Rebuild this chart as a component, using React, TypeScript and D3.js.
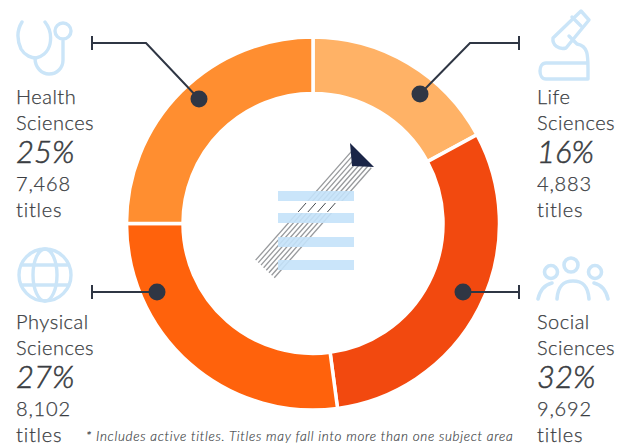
import React from "react";
import * as d3 from "d3";

const categories = ["Life Sciences", "Social Sciences", "Physical Sciences", "Health Sciences"];
const arcShares = [17.1, 30.8, 27.1, 25.0];
const percentLabels = ["16%", "32%", "27%", "25%"];
const titleCounts = ["4,883", "9,692", "8,102", "7,468"];
const sliceColors = ["#FFB266", "#F2490F", "#FF620C", "#FF8E30"];
const footnote = "* Includes active titles. Titles may fall into more than one subject area";

const CX = 313, CY = 223.5, R0 = 130, R1 = 186.5;
const NAVY = "#2F3644", ICON = "#CBE5F8", TEXT = "#3A3D42", BAR = "#C4E2FA";

const labelPos = [
  { x: 537, y: 104 }, { x: 537, y: 329 }, { x: 16, y: 329 }, { x: 16, y: 104 },
];
const leaders = [
  { pts: [[519, 43], [470, 43], [420, 94]] },
  { pts: [[519, 292], [463, 292]] },
  { pts: [[92, 292], [157, 292]] },
  { pts: [[92, 43], [146, 43], [199, 99]] },
];
const barYs = [191, 213, 237, 260];
const hatchOffsets = d3.range(-13, 14, 3.7);

function Stethoscope() {
  return (
    <g fill="none" stroke={ICON} strokeWidth={3.4} strokeLinecap="round" strokeLinejoin="round" filter="url(#soft)">
      <path d="M22 22 C17 30 17 40 21 49 C25 56 32 58 36 58 C41 57 48 53 50 44 C52 34 49 27 45 22" />
      <path d="M35 58 C35 68 42 74 49 74 C57 74 63 68 63 60 L63 41" />
      <circle cx={63} cy={31} r={8} />
    </g>
  );
}
function Microscope() {
  return (
    <g fill="none" stroke={ICON} strokeWidth={3.4} strokeLinecap="round" strokeLinejoin="round" filter="url(#soft)">
      <path d="M553 38 L581 11 L589 20 L566 48 C559 50 552 45 553 38 Z" />
      <path d="M569 36 L577 44 C588 46 588 55 588 69 L588 79 L546 79 C538 79 538 63 546 63 L587 63" />
      <path d="M572 17 L581 26" />
    </g>
  );
}
function Globe() {
  return (
    <g fill="none" stroke={ICON} strokeWidth={3.4} filter="url(#soft)">
      <circle cx={45} cy={275} r={26} />
      <ellipse cx={45} cy={275} rx={12} ry={26} />
      <path d="M21 265 H69 M21 285 H69" />
    </g>
  );
}
function People() {
  return (
    <g fill="none" stroke={ICON} strokeWidth={3.6} strokeLinecap="round" filter="url(#soft)">
      <circle cx={551} cy={272} r={6.5} />
      <circle cx={571} cy={265} r={7} />
      <circle cx={595} cy={272} r={6.5} />
      <path d="M538 299 C540 290 544 285 552 283" />
      <path d="M557 299 C558 285 564 281 573 281 C582 281 588 285 589 299" />
      <path d="M608 299 C606 290 602 285 594 283" />
    </g>
  );
}

export default function App() {
  const pie = d3.pie<number>().sort(null).value((d) => d);
  const arc = d3.arc<d3.PieArcDatum<number>>().innerRadius(R0).outerRadius(R1);
  const line = d3.line();
  const arcs = pie(arcShares);
  const band = (o: number) => {
    const x0 = 265 + o * 0.72, y0 = 269 + o * 0.68;
    return { x1: x0, y1: y0, x2: x0 + 97, y2: y0 - 110 };
  };
  return (
    <svg
      width={621}
      height={446}
      viewBox="0 0 621 446"
      style={{ position: "absolute", left: 0, top: 0, background: "#fff" }}
      fontFamily="Lato, 'Open Sans', sans-serif"
    >
      <defs>
        <filter id="soft" x="-20%" y="-20%" width="140%" height="140%">
          <feGaussianBlur stdDeviation={0.6} />
        </filter>
      </defs>
      <g transform={`translate(${CX},${CY})`}>
        {arcs.map((a, i) => (
          <path key={categories[i]} d={arc(a) ?? ""} fill={sliceColors[i]} stroke="#fff" strokeWidth={3.5} />
        ))}
      </g>

      {hatchOffsets.map((o, i) => {
        const b = band(o);
        return <line key={i} {...b} stroke="#97999C" strokeWidth={1.3} />;
      })}
      {barYs.map((y) => (
        <rect key={y} x={278} y={y} width={76} height={10} fill={BAR} opacity={0.9} />
      ))}
      <rect x={278} y={201} width={76} height={12} fill="#fff" />
      {hatchOffsets.map((o, i) => {
        if (i % 2 === 1) return null;
        const b = band(o);
        const t0 = (b.y1 - 212) / (b.y1 - b.y2);
        const t1 = (b.y1 - 203) / (b.y1 - b.y2);
        const xa = b.x1 + (b.x2 - b.x1) * t0;
        const xb = b.x1 + (b.x2 - b.x1) * t1;
        return <line key={i} x1={xa} y1={212} x2={xb} y2={203} stroke="#45484D" strokeWidth={1} />;
      })}
      <path d="M350 143 L374 167 L352 166 Z" fill="#1A2547" />

      {leaders.map((l, i) => {
        const p = l.pts as [number, number][];
        const s = p[0], e = p[p.length - 1];
        return (
          <g key={categories[i]}>
            <path d={line(p) ?? ""} fill="none" stroke={NAVY} strokeWidth={2} />
            <line x1={s[0]} x2={s[0]} y1={s[1] - 7} y2={s[1] + 7} stroke={NAVY} strokeWidth={2} />
            <circle cx={e[0]} cy={e[1]} r={8.5} fill={NAVY} />
          </g>
        );
      })}

      <Stethoscope />
      <Microscope />
      <Globe />
      <People />

      {categories.map((c, i) => {
        const { x, y } = labelPos[i];
        const [w1, w2] = c.split(" ");
        return (
          <g key={c} fill={TEXT} fontWeight={300} stroke={TEXT} strokeWidth={0.25}>
            <text x={x} y={y} fontSize={20} letterSpacing={0.5}>{w1}</text>
            <text x={x} y={y + 26} fontSize={20} letterSpacing={0.5}>{w2}</text>
            <text x={x} y={y + 59} fontSize={31} fontStyle="italic" strokeWidth={0.55}>{percentLabels[i]}</text>
            <text x={x} y={y + 87} fontSize={20} letterSpacing={0.8}>{titleCounts[i]}</text>
            <text x={x} y={y + 113} fontSize={20} letterSpacing={0.8}>titles</text>
          </g>
        );
      })}
      <text x={86} y={441} fontSize={13.5} fontStyle="italic" fontWeight={300} fill={TEXT} stroke={TEXT} strokeWidth={0.15} letterSpacing={0.67}>{footnote}</text>
    </svg>
  );
}
